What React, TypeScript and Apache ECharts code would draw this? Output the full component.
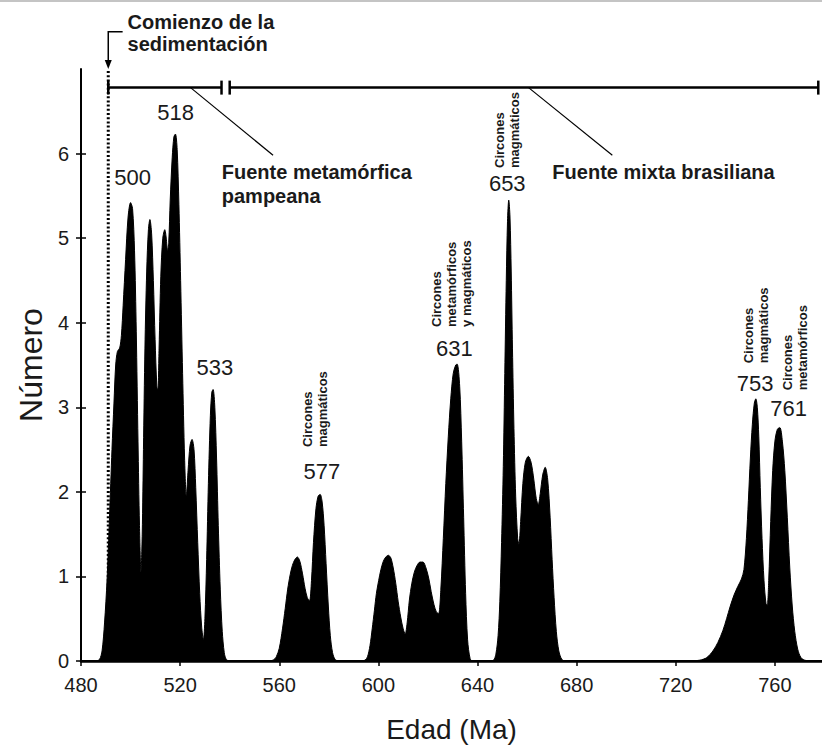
import React, { useEffect, useRef } from 'react';
import * as echarts from 'echarts';

const FONT = '"Liberation Sans", Arial, Helvetica, sans-serif';
const TEXT = '#1a1a1a';

// Detrital zircon age probability curve (age Ma, number)
const clusterPampeano: [number, number][] = [
  [480, 0], [486, 0], [487.5, 0.02], [488.5, 0.12], [489.5, 0.45], [490.5, 0.95], [491.5, 1.7],
  [492.5, 2.5], [493.3, 3.05], [494, 3.5], [494.7, 3.66], [495.6, 3.7], [496.3, 3.85], [497, 4.2],
  [498, 4.75], [499, 5.25], [500, 5.42], [500.8, 5.35], [501.6, 4.85], [502.3, 3.9], [503, 2.6],
  [503.6, 1.6], [504.2, 1.05], [504.7, 1.5], [505.2, 2.5], [505.8, 3.7], [506.5, 4.6], [507.2, 5.1],
  [507.8, 5.22], [508.5, 5.05], [509.2, 4.5], [509.9, 3.8], [510.6, 3.25], [511, 3.2], [511.5, 3.7],
  [512.2, 4.55], [513, 5.0], [513.8, 5.1], [514.4, 5.0], [514.9, 4.85], [515.4, 4.95], [516, 5.45],
  [516.8, 5.95], [517.5, 6.2], [518.1, 6.23], [518.8, 6.05], [519.5, 5.4], [520.2, 4.5], [521, 3.4],
  [521.8, 2.4], [522.5, 1.95], [523.2, 2.25], [524, 2.55], [524.8, 2.62], [525.6, 2.5], [526.3, 2.05],
  [527.1, 1.4], [527.9, 0.8], [528.7, 0.4], [529.4, 0.25], [530, 0.5], [530.7, 1.2], [531.4, 2.1],
  [532.2, 2.9], [532.8, 3.18], [533.3, 3.21], [534, 3.0], [534.7, 2.4], [535.4, 1.6], [536.2, 0.85],
  [537, 0.35], [537.8, 0.1], [538.6, 0.02], [540, 0], [555, 0],
];
const cluster577: [number, number][] = [
  [557.5, 0.01], [558.8, 0.05], [560, 0.15], [561.3, 0.38], [562.4, 0.62], [563.4, 0.85], [564.4, 1.02],
  [565.3, 1.13], [566.3, 1.2], [567.3, 1.23], [568.3, 1.18], [569.4, 1.03], [570.4, 0.86], [571.3, 0.75],
  [572.2, 0.71], [573, 0.95], [573.8, 1.4], [574.8, 1.8], [575.7, 1.95], [576.5, 1.97], [577.3, 1.88],
  [578.1, 1.6], [578.9, 1.15], [579.8, 0.65], [580.6, 0.3], [581.5, 0.1], [582.5, 0.02], [584, 0], [593, 0],
];
const cluster631: [number, number][] = [
  [594.6, 0.01], [595.6, 0.05], [596.6, 0.18], [597.5, 0.38], [598.4, 0.6], [599.2, 0.8], [600.1, 0.95],
  [601, 1.08], [602, 1.18], [603, 1.23], [604, 1.25], [605, 1.22], [606, 1.1], [607, 0.92], [608, 0.7],
  [609, 0.52], [610, 0.38], [610.8, 0.32], [611.6, 0.45], [612.5, 0.72], [613.5, 0.92], [614.5, 1.05],
  [615.6, 1.13], [616.8, 1.17], [618, 1.17], [619.2, 1.1], [620.3, 0.98], [621.3, 0.82], [622.4, 0.67],
  [623.4, 0.58], [624.3, 0.56], [625.2, 0.85], [626.2, 1.45], [627.2, 2.1], [628.2, 2.65], [629.2, 3.1],
  [630.2, 3.4], [631.2, 3.5], [631.8, 3.51], [632.8, 3.25], [633.6, 2.6], [634.4, 1.7], [635.2, 0.8],
  [636, 0.25], [637, 0.03], [638, 0], [645, 0],
];
const cluster653: [number, number][] = [
  [646.5, 0.01], [647.4, 0.08], [648.3, 0.3], [649, 0.7], [649.7, 1.4], [650.4, 2.3], [651, 3.4],
  [651.6, 4.5], [652.1, 5.2], [652.6, 5.45], [653.1, 5.25], [653.6, 4.6], [654.1, 3.7], [654.7, 2.75],
  [655.4, 1.95], [656.2, 1.45], [656.7, 1.38], [657.4, 1.65], [658.3, 2.1], [659.3, 2.35], [660.5, 2.42],
  [661.6, 2.35], [662.7, 2.15], [663.7, 1.92], [664.5, 1.85], [665.3, 1.98], [666.3, 2.2], [667.3, 2.29],
  [668.3, 2.15], [669.3, 1.7], [670.1, 1.2], [670.9, 0.75], [671.8, 0.35], [672.8, 0.12], [674, 0.02],
  [675.5, 0], [726, 0],
];
const cluster753: [number, number][] = [
  [729.7, 0.01], [732.5, 0.04], [735, 0.12], [737, 0.22], [739, 0.36], [740.5, 0.5], [742, 0.65],
  [743.5, 0.78], [745, 0.88], [746.5, 0.97], [747.5, 1.08], [748.5, 1.45], [749.3, 1.9], [750.1, 2.4],
  [750.9, 2.8], [751.7, 3.05], [752.3, 3.1], [752.9, 3.0], [753.5, 2.65], [754.1, 2.05], [754.8, 1.45],
  [755.6, 0.95], [756.4, 0.68], [756.9, 0.66], [757.5, 0.95], [758.3, 1.65], [759.1, 2.25], [760, 2.6],
  [761, 2.74], [762, 2.76], [763, 2.6], [764, 2.25], [765, 1.7], [766, 1.1], [767, 0.65], [768, 0.35],
  [769.2, 0.14], [770.5, 0.04], [772, 0.01], [774, 0], [779, 0],
];

const xTicks = [480, 520, 560, 600, 640, 680, 720, 760];
const yTicks = [0, 1, 2, 3, 4, 5, 6];

// peak ages and their label anchors (age, number)
const peakAges = ['500', '518', '533', '577', '631', '653', '753', '761'];
const peakLabelAt: [number, number][] = [
  [500.8, 5.72], [518.2, 6.49], [534.0, 3.47], [577.2, 2.24], [630.7, 3.7], [652.0, 5.65], [752.0, 3.28], [765.5, 2.98],
];

// rotated notes: anchor (age, number) at bottom of text, lines
const zirconNotes: { at: [number, number]; lines: string[] }[] = [
  { at: [574.6, 2.53], lines: ['Circones', 'magmáticos'] },
  { at: [629.4, 3.95], lines: ['Circones', 'metamórficos', 'y magmáticos'] },
  { at: [651.7, 5.83], lines: ['Circones', 'magmáticos'] },
  { at: [752.4, 3.52], lines: ['Circones', 'magmáticos'] },
  { at: [768.2, 3.2], lines: ['Circones', 'metamórficos'] },
];

const sedimentationStart = 491;
const sourceRanges = [
  { from: 491, to: 536.7, label: 'Fuente metamórfica\npampeana', leader: [[524.2, 6.78], [557.5, 5.98]], text: [536.8, 5.78] },
  { from: 540, to: 777.5, label: 'Fuente mixta brasiliana', leader: [[660.6, 6.78], [694.4, 5.98]], text: [670.2, 5.78] },
];
const rangeLevel = 6.78;

export default function App() {
  const ref = useRef<HTMLDivElement>(null);
  useEffect(() => {
    if (!ref.current) return;
    const chart = echarts.init(ref.current, null, { renderer: 'svg' });
    const data = [...clusterPampeano, ...cluster577, ...cluster631, ...cluster653, ...cluster753];
    chart.setOption({
      animation: false,
      backgroundColor: '#fff',
      grid: { left: 81, right: 0, top: 69, bottom: 89 },
      xAxis: [
        {
          type: 'value', min: 480, max: 779,
          axisLine: { show: true, lineStyle: { color: '#000', width: 2 } },
          axisTick: { show: true, customValues: xTicks, length: 5, lineStyle: { color: '#000', width: 1.5 } },
          axisLabel: { customValues: xTicks, fontSize: 20, color: TEXT, margin: 14, fontFamily: FONT },
          splitLine: { show: false },
          name: 'Edad (Ma)', nameLocation: 'middle', nameGap: 54,
          nameTextStyle: { fontSize: 28, color: TEXT, fontFamily: FONT },
        },
        {
          type: 'value', position: 'top', min: 480, max: 779,
          axisLine: { show: true, lineStyle: { color: '#000', width: 2.5 } },
          axisTick: { show: false }, axisLabel: { show: false }, splitLine: { show: false },
        },
      ],
      yAxis: [
        {
          type: 'value', min: 0, max: 7, interval: 1,
          axisLine: { show: true, lineStyle: { color: '#000', width: 2 } },
          axisTick: { show: true, customValues: yTicks, length: 5, lineStyle: { color: '#000', width: 1.5 } },
          axisLabel: { customValues: yTicks, fontSize: 20, color: TEXT, margin: 12, fontFamily: FONT },
          splitLine: { show: false },
          name: 'Número', nameLocation: 'middle', nameGap: 34,
          nameTextStyle: { fontSize: 32, color: TEXT, fontFamily: FONT },
        },
        {
          type: 'value', position: 'left', min: 0, max: 7, interval: 1,
          axisLine: { show: false },
          axisTick: { show: true, inside: true, customValues: yTicks, length: 5, lineStyle: { color: '#000', width: 1.5 } },
          axisLabel: { show: false }, splitLine: { show: false },
        },
      ],
      series: [
        {
          type: 'line', xAxisIndex: 0, yAxisIndex: 0, data, smooth: 0.3, showSymbol: false,
          lineStyle: { color: '#000', width: 1 }, areaStyle: { color: '#000', opacity: 1 }, silent: true,
        },
      ],
    });

    const p = (x: number, y: number) => chart.convertToPixel({ seriesIndex: 0 }, [x, y]) as number[];
    const g: any[] = [];
    g.push({ type: 'rect', shape: { x: 0, y: 0, width: 822, height: 2 }, style: { fill: '#c4c4c4' }, silent: true });

    // sedimentation start
    const s0 = p(sedimentationStart, 0);
    const s1 = p(sedimentationStart, 7);
    g.push({ type: 'line', shape: { x1: s0[0], y1: s0[1], x2: s1[0], y2: s1[1] }, style: { stroke: '#000', lineWidth: 3, lineDash: [2, 2.2] }, silent: true });
    const bA = p(496.8, 7.44);
    const bB = p(sedimentationStart, 7.44);
    const tip = p(sedimentationStart, 7.0);
    g.push({ type: 'polyline', shape: { points: [bA, bB, [bB[0], tip[1] - 8]] }, style: { stroke: '#000', lineWidth: 1.5, fill: null }, silent: true });
    g.push({ type: 'polygon', shape: { points: [[tip[0], tip[1]], [tip[0] - 3.5, tip[1] - 9], [tip[0] + 3.5, tip[1] - 9]] }, style: { fill: '#000' }, silent: true });
    const ct = p(498.8, 7.55);
    g.push({ type: 'text', x: ct[0], y: ct[1] - 11, style: { text: 'Comienzo de la\nsedimentación', fontSize: 20, fontWeight: 'bold', fontFamily: FONT, fill: TEXT, align: 'left', verticalAlign: 'top', lineHeight: 22 }, silent: true });

    // source ranges
    sourceRanges.forEach((r) => {
      const a = p(r.from, rangeLevel);
      const b = p(r.to, rangeLevel);
      g.push({ type: 'line', shape: { x1: a[0], y1: a[1], x2: b[0], y2: b[1] }, style: { stroke: '#000', lineWidth: 2.5 }, silent: true });
      [a, b].forEach((c) => g.push({ type: 'line', shape: { x1: c[0], y1: c[1] - 7, x2: c[0], y2: c[1] + 7 }, style: { stroke: '#000', lineWidth: 2.5 }, silent: true }));
      const l0 = p(r.leader[0][0], r.leader[0][1]);
      const l1 = p(r.leader[1][0], r.leader[1][1]);
      g.push({ type: 'line', shape: { x1: l0[0], y1: l0[1], x2: l1[0], y2: l1[1] }, style: { stroke: '#000', lineWidth: 1.2 }, silent: true });
      const t = p(r.text[0], r.text[1]);
      g.push({ type: 'text', x: t[0], y: t[1] - 12, style: { text: r.label, fontSize: 20, fontWeight: 'bold', fontFamily: FONT, fill: TEXT, align: 'left', verticalAlign: 'top', lineHeight: 24 }, silent: true });
    });

    // peak labels
    peakAges.forEach((age, i) => {
      const c = p(peakLabelAt[i][0], peakLabelAt[i][1]);
      g.push({ type: 'text', x: c[0], y: c[1], style: { text: age, fontSize: 22, fontFamily: FONT, fill: TEXT, align: 'center', verticalAlign: 'middle' }, silent: true });
    });

    // rotated zircon notes
    zirconNotes.forEach((n) => {
      const c = p(n.at[0], n.at[1]);
      g.push({ type: 'text', x: c[0], y: c[1], rotation: Math.PI / 2, style: { text: n.lines.join('\n'), fontSize: 13, fontWeight: 'bold', fontFamily: FONT, fill: TEXT, align: 'left', verticalAlign: 'middle', lineHeight: 15 }, silent: true });
    });

    chart.setOption({ graphic: g });
    return () => chart.dispose();
  }, []);
  return <div ref={ref} style={{ position: 'fixed', left: 0, top: 0, width: 822, height: 750 }} />;
}
